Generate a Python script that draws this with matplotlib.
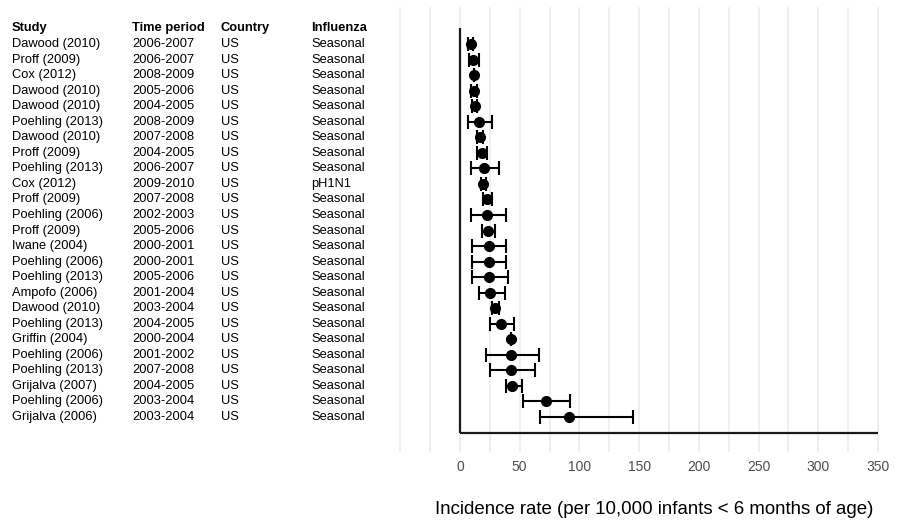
import matplotlib
matplotlib.use("Agg")
import matplotlib.pyplot as plt
from matplotlib.transforms import blended_transform_factory

plt.rcParams['font.family'] = ['Liberation Sans', 'DejaVu Sans']

studies = ["Dawood (2010)", "Proff (2009)", "Cox (2012)", "Dawood (2010)", "Dawood (2010)",
           "Poehling (2013)", "Dawood (2010)", "Proff (2009)", "Poehling (2013)", "Cox (2012)",
           "Proff (2009)", "Poehling (2006)", "Proff (2009)", "Iwane (2004)", "Poehling (2006)",
           "Poehling (2013)", "Ampofo (2006)", "Dawood (2010)", "Poehling (2013)", "Griffin (2004)",
           "Poehling (2006)", "Poehling (2013)", "Grijalva (2007)", "Poehling (2006)", "Grijalva (2006)"]
periods = ["2006-2007", "2006-2007", "2008-2009", "2005-2006", "2004-2005",
           "2008-2009", "2007-2008", "2004-2005", "2006-2007", "2009-2010",
           "2007-2008", "2002-2003", "2005-2006", "2000-2001", "2000-2001",
           "2005-2006", "2001-2004", "2003-2004", "2004-2005", "2000-2004",
           "2001-2002", "2007-2008", "2004-2005", "2003-2004", "2003-2004"]
countries = ["US"] * 25
influenza = ["Seasonal"] * 9 + ["pH1N1"] + ["Seasonal"] * 15

# incidence per 10,000 infants with 95% CI
rate = [8.9, 11.0, 11.7, 11.7, 12.3, 16.1, 16.7, 18.7, 19.8, 19.5,
        22.6, 22.9, 23.4, 24.0, 24.0, 24.0, 25.4, 29.6, 34.0, 43.0,
        43.0, 43.0, 43.8, 71.7, 91.0]
lower = [6.8, 7.3, 11.7, 9.6, 10.2, 7.0, 14.6, 14.5, 9.2, 17.5,
         19.0, 9.0, 18.7, 9.8, 9.8, 9.8, 15.9, 26.5, 24.8, 43.0,
         21.8, 24.8, 39.0, 53.0, 67.0]
upper = [11.2, 16.1, 11.7, 14.0, 14.6, 26.5, 19.0, 22.9, 32.9, 21.5,
         26.5, 38.2, 29.3, 38.5, 39.0, 39.9, 37.7, 32.9, 45.2, 43.0,
         66.1, 63.0, 52.1, 91.8, 145.0]

W, H = 904, 521
fig = plt.figure(figsize=(W / 100, H / 100), dpi=100)
ax = fig.add_axes([393 / W, 1 - 452 / H, 497 / W, 445 / H])

rows = list(range(1, len(rate) + 1))
n = len(rows)
xerr = [[r - l for r, l in zip(rate, lower)], [u - r for r, u in zip(rate, upper)]]

# light vertical grid every 25 units
for gx in range(-50, 351, 25):
    ax.axvline(gx, color='#EBEBEB', lw=1.1, zorder=0)

ax.vlines(0, 0, n + 1, color='#1a1a1a', lw=1.6, zorder=2)
ax.hlines(n + 1, 0, 350, color='#1a1a1a', lw=1.6, zorder=2)

ax.errorbar(rate, rows, xerr=xerr, fmt='o', color='black', ms=7,
            elinewidth=1.5, capsize=4.8, capthick=1.5, zorder=3)

ax.set_xlim(-56, 360)
ax.set_ylim(27.25, -1.38)
ax.set_xticks(range(0, 351, 50))
ax.tick_params(axis='x', length=0, pad=6, labelsize=10, labelcolor='#4D4D4D')
ax.set_yticks([])
for s in ax.spines.values():
    s.set_visible(False)

# study table on the left
tr = blended_transform_factory(fig.transFigure, ax.transData)
col_x = [12 / W, 132 / W, 221 / W, 311 / W]
headers = ["Study", "Time period", "Country", "Influenza"]
for cx, h in zip(col_x, headers):
    ax.text(cx, 0, h, transform=tr, ha='left', va='center', fontsize=9.3,
            fontweight='bold', color='black', clip_on=False)
for i, cols in enumerate(zip(studies, periods, countries, influenza)):
    for cx, t in zip(col_x, cols):
        ax.text(cx, rows[i], t, transform=tr, ha='left', va='center',
                fontsize=9.3, color='black', clip_on=False)

fig.text(654.5 / W, 1 - 509 / H, "Incidence rate (per 10,000 infants < 6 months of age)",
         ha='center', va='center', fontsize=13.4, color='black')

fig.savefig("out.png", dpi=100)
